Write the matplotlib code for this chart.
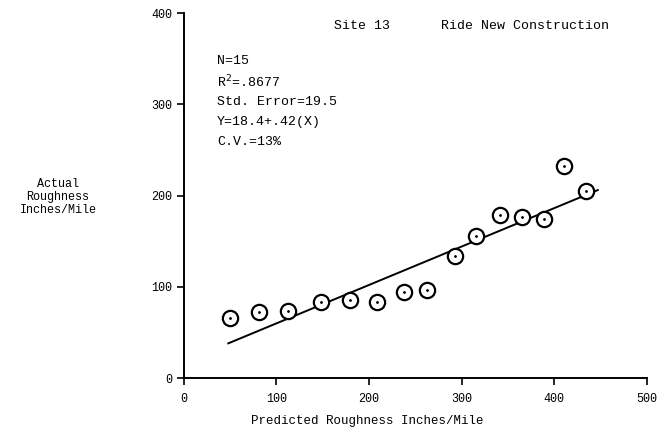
import matplotlib.pyplot as plt

# predicted vs actual roughness
predicted = [50, 81, 113, 148, 179, 209, 238, 263, 293, 315, 341, 365, 389, 411, 434]
actual = [66, 72, 73, 83, 85, 83, 94, 96, 134, 156, 179, 177, 174, 232, 205]

# regression line end points
fit_x = [48, 447]
fit_y = [38, 206]

stats = ["N=15", "R$^2$=.8677", "Std. Error=19.5", "Y=18.4+.42(X)", "C.V.=13%"]

x_ticks = [0, 100, 200, 300, 400, 500]
y_ticks = [0, 100, 200, 300, 400]

mono = "Liberation Mono"

fig = plt.figure(figsize=(6.71, 4.36), dpi=100)
ax = fig.add_axes([0.274, 0.133, 0.690, 0.837])

ax.plot(fit_x, fit_y, color="black", lw=1.4)
ax.plot(predicted, actual, "o", ms=11, mfc="white", mec="black", mew=1.6)
ax.plot(predicted, actual, ".", ms=2, color="black")

ax.set_xlim(0, 500)
ax.set_ylim(0, 400)
ax.set_xticks(x_ticks)
ax.set_yticks(y_ticks)
ax.tick_params(direction="out", length=5, width=1.2, labelsize=8.5)
ax.tick_params(axis="x", pad=6)
for lab in ax.get_xticklabels() + ax.get_yticklabels():
    lab.set_family(mono)

for side in ["top", "right"]:
    ax.spines[side].set_visible(False)
for side in ["left", "bottom"]:
    ax.spines[side].set_linewidth(1.4)

# stats block
for i, s in enumerate(stats):
    ax.text(36, 347 - i * 22.2, s, family=mono, fontsize=9.5, va="center")

ax.text(162, 386, "Site 13", family=mono, fontsize=9.5, va="center")
ax.text(278, 386, "Ride New Construction", family=mono, fontsize=9.5, va="center")

fig.text(367 / 671, 1 - 421 / 436, "Predicted Roughness Inches/Mile",
         family=mono, fontsize=9, ha="center", va="center")
fig.text(58 / 671, 1 - 197 / 436, "Actual\nRoughness\nInches/Mile",
         family=mono, fontsize=8.5, ha="center", va="center", linespacing=1.15)

fig.savefig("out.png", dpi=100)
